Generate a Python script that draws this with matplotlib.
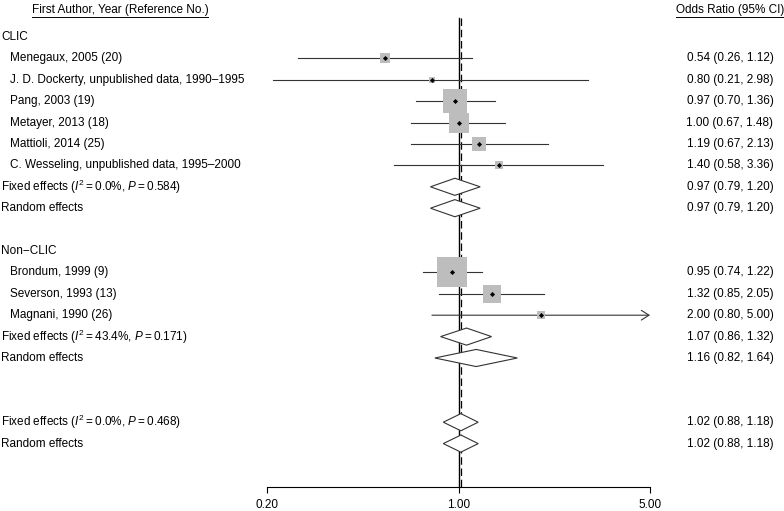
import numpy as np
import matplotlib
matplotlib.use("Agg")
import matplotlib.pyplot as plt
from matplotlib.patches import Polygon
from matplotlib.lines import Line2D
from matplotlib.transforms import blended_transform_factory

plt.rcParams['font.family'] = 'Liberation Sans'
plt.rcParams['mathtext.fontset'] = 'custom'
plt.rcParams['mathtext.rm'] = 'Liberation Sans'
plt.rcParams['mathtext.it'] = 'Liberation Sans:italic'

# data
clic_names = ["Menegaux, 2005 (20)", "J. D. Dockerty, unpublished data, 1990\u20131995",
              "Pang, 2003 (19)", "Metayer, 2013 (18)", "Mattioli, 2014 (25)",
              "C. Wesseling, unpublished data, 1995\u20132000"]
clic_or = [0.54, 0.80, 0.97, 1.00, 1.19, 1.40]
clic_lo = [0.26, 0.21, 0.70, 0.67, 0.67, 0.58]
clic_hi = [1.12, 2.98, 1.36, 1.48, 2.13, 3.36]

non_names = ["Brondum, 1999 (9)", "Severson, 1993 (13)", "Magnani, 1990 (26)"]
non_or = [0.95, 1.32, 2.00]
non_lo = [0.74, 0.85, 0.80]
non_hi = [1.22, 2.05, 5.00]

clic_fixed = (0.97, 0.79, 1.20)
clic_random = (0.97, 0.79, 1.20)
clic_het = ("0.0", "0.584")
non_fixed = (1.07, 0.86, 1.32)
non_random = (1.16, 0.82, 1.64)
non_het = ("43.4", "0.171")
all_fixed = (1.02, 0.88, 1.18)
all_random = (1.02, 0.88, 1.18)
all_het = ("0.0", "0.468")

xticks = [0.20, 1.00, 5.00]

W, H = 784, 511
fig = plt.figure(figsize=(W / 100, H / 100), dpi=100)

def ry(r):
    return 37 + 21.4 * r

ax = fig.add_axes([267 / W, (H - 487) / H, 383 / W, 487 / H])
ax.set_xscale('log')
ax.set_xlim(0.2, 5)
top_r = -37 / 21.4
bot_r = (487 - 37) / 21.4
ax.set_ylim(bot_r, top_r)
for s in ['top', 'left', 'right']:
    ax.spines[s].set_visible(False)
ax.spines['bottom'].set_linewidth(0.8)
ax.set_yticks([])
ax.set_xticks(xticks)
ax.set_xticklabels(["%.2f" % t for t in xticks])
ax.minorticks_off()
ax.xaxis.set_minor_locator(matplotlib.ticker.NullLocator())
ax.tick_params(axis='x', direction='out', length=4.5, width=0.8, labelsize=8.5, pad=4)
ax.patch.set_visible(False)

tr = blended_transform_factory(fig.transFigure, ax.transData)
fs = 8.5
col_x = 730 / W

def fmt(e, l, h):
    return "%.2f (%.2f, %.2f)" % (e, l, h)

def study(r, name, e, l, h):
    se = (np.log(h) - np.log(l)) / (2 * 1.96)
    side = 3.9 / se * 0.72
    hx = h
    if h >= 5.0:
        ax.annotate("", xy=(5.0, r), xytext=(l, r),
                    arrowprops=dict(arrowstyle='->,head_length=0.55,head_width=0.35',
                                    color='#333333', lw=0.8, shrinkA=0, shrinkB=0))
    else:
        ax.plot([l, hx], [r, r], color='#333333', lw=0.8, zorder=2)
    ax.plot([e], [r], marker='s', ms=side, color='#bdbdbd', mew=0, zorder=3)
    ax.plot([e], [r], marker='D', ms=2.6, color='black', mew=0, zorder=4)
    fig.text(10 / W, r, name, transform=tr, ha='left', va='center', fontsize=fs)
    fig.text(col_x, r, fmt(e, l, h), transform=tr, ha='center', va='center', fontsize=fs)

def diamond(r, label, vals):
    e, l, h = vals
    hh = 0.4
    poly = Polygon([(l, r), (e, r - hh), (h, r), (e, r + hh)], closed=True,
                   facecolor='white', edgecolor='#333333', lw=0.8, zorder=3)
    ax.add_patch(poly)
    fig.text(1 / W, r, label, transform=tr, ha='left', va='center', fontsize=fs)
    fig.text(col_x, r, fmt(e, l, h), transform=tr, ha='center', va='center', fontsize=fs)

def fixed_label(het):
    return r"Fixed effects ($\mathit{I}^2 = %s\%%$, $\mathit{P} = %s$)" % het

# reference lines
ax.plot([1, 1], [(18 - 37) / 21.4, bot_r], color='black', lw=1.0, zorder=1)
ax.plot([all_fixed[0]] * 2, [(18 - 37) / 21.4, bot_r], color='black', lw=0.9,
        ls=(0, (6, 3)), zorder=1)

# CLIC
fig.text(1 / W, 0, "CLIC", transform=tr, ha='left', va='center', fontsize=fs)
for i in range(len(clic_names)):
    study(1 + i, clic_names[i], clic_or[i], clic_lo[i], clic_hi[i])
diamond(7, fixed_label(clic_het), clic_fixed)
diamond(8, "Random effects", clic_random)

# Non-CLIC
fig.text(1 / W, 10, "Non\u2212CLIC", transform=tr, ha='left', va='center', fontsize=fs)
for i in range(len(non_names)):
    study(11 + i, non_names[i], non_or[i], non_lo[i], non_hi[i])
diamond(14, fixed_label(non_het), non_fixed)
diamond(15, "Random effects", non_random)

# overall
diamond(18, fixed_label(all_het), all_fixed)
diamond(19, "Random effects", all_random)

# headers with underline
hr = (10 - 37) / 21.4
h1 = fig.text(120 / W, hr, "First Author, Year (Reference No.)", transform=tr,
              ha='center', va='center', fontsize=fs)
h2 = fig.text(col_x, hr, "Odds Ratio (95% CI)", transform=tr,
              ha='center', va='center', fontsize=fs)
fig.canvas.draw()
inv = fig.transFigure.inverted()
for t in [h1, h2]:
    bb = t.get_window_extent().transformed(inv)
    fig.add_artist(Line2D([bb.x0, bb.x1], [bb.y0 - 1.5 / H, bb.y0 - 1.5 / H],
                          color='black', lw=0.7, transform=fig.transFigure))

fig.savefig("out.png", dpi=100)
